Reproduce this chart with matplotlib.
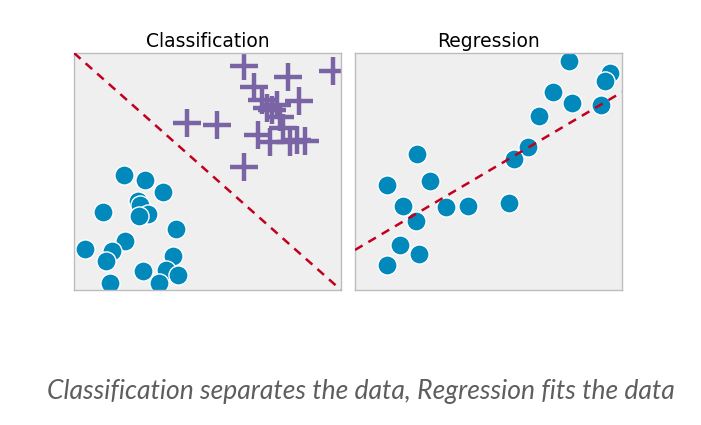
import matplotlib.pyplot as plt

# classification: two groups (0-10 scale in both axes)
circ_x = [1.87, 2.66, 3.33, 2.40, 2.47, 2.77, 2.43, 1.09, 3.82, 1.91,
          1.42, 0.41, 1.20, 3.71, 2.58, 3.45, 3.90, 1.35, 3.18]
circ_y = [4.85, 4.64, 4.14, 3.76, 3.59, 3.21, 3.12, 3.29, 2.57, 2.07,
          1.65, 1.73, 1.22, 1.43, 0.80, 0.84, 0.63, 0.30, 0.30]

plus_x = [6.37, 8.01, 9.70, 6.74, 7.04, 7.60, 8.43, 7.42, 7.72, 4.23,
          5.36, 6.89, 7.34, 8.09, 8.65, 8.35, 6.37, 7.83, 7.23]
plus_y = [9.45, 8.99, 9.24, 8.57, 8.02, 7.81, 7.97, 7.59, 7.30, 7.05,
          6.96, 6.54, 6.24, 6.24, 6.29, 6.33, 5.19, 6.84, 7.68]

sep_x = [0, 10]
sep_y = [10, 0]

# regression
reg_x = [8.01, 9.55, 9.36, 7.41, 8.12, 9.21, 6.88, 6.47, 5.94, 2.33,
         1.20, 2.82, 1.80, 3.42, 4.25, 5.75, 2.29, 1.69, 2.41, 1.20]
reg_y = [9.66, 9.16, 8.82, 8.35, 7.89, 7.81, 7.34, 6.03, 5.53, 5.74,
         4.43, 4.60, 3.54, 3.50, 3.54, 3.67, 2.91, 1.90, 1.52, 1.05]

fit_x = [0, 10]
fit_y = [1.69, 8.35]

blue = "#0089ba"
purple = "#7b64a6"
red = "#c0001e"

fig = plt.figure(figsize=(7.01, 4.25), dpi=100)
ax1 = fig.add_axes([74 / 701, 135 / 425, 267 / 701, 237 / 425])
ax2 = fig.add_axes([355 / 701, 135 / 425, 267 / 701, 237 / 425])

for ax in (ax1, ax2):
    ax.set_facecolor("#efefef")
    ax.set_xlim(0, 10)
    ax.set_ylim(0, 10)
    ax.set_xticks([])
    ax.set_yticks([])
    for s in ax.spines.values():
        s.set_color("#bdbdbd")
        s.set_linewidth(1)

ax1.scatter(circ_x, circ_y, s=190, color=blue, edgecolors="white", linewidths=1, zorder=2)
ax1.scatter(plus_x, plus_y, s=390, marker="+", color=purple, linewidths=3.2, zorder=2)
ax1.plot(sep_x, sep_y, color=red, lw=1.8, ls=(0, (3.5, 2.7)), zorder=3)
ax1.set_title("Classification", fontsize=13.5, pad=4)

ax2.scatter(reg_x, reg_y, s=190, color=blue, edgecolors="white", linewidths=1, zorder=2)
ax2.plot(fit_x, fit_y, color=red, lw=1.8, ls=(0, (3.5, 2.7)), zorder=3)
ax2.set_title("Regression", fontsize=13.5, pad=4)

fig.text(361 / 701, 1 - 392 / 425, "Classification separates the data, Regression fits the data",
         ha="center", va="center", fontsize=19.1, style="italic", family="Lato",
         color="#5e5e5e")

fig.savefig("out.png", dpi=100)
